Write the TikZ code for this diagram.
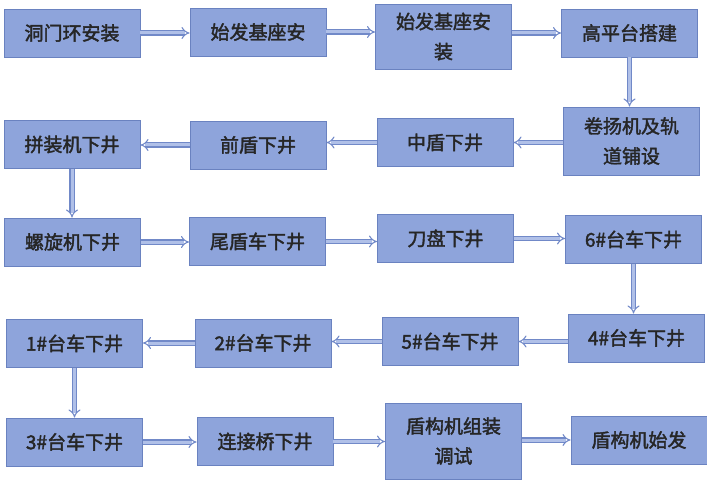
\documentclass[tikz,border=0pt]{standalone}
\usepackage{fontspec}
\setmainfont{Noto Sans CJK SC}[FakeBold=2]
\usepackage{xcolor}
\usepackage{tikz}
\usetikzlibrary{arrows.meta,positioning}
\definecolor{boxfill}{HTML}{8EA4DB}
\definecolor{boxline}{HTML}{6A82C0}
\definecolor{arrline}{HTML}{7189C8}
\definecolor{arrfill}{HTML}{B0C0E8}
\tikzset{%
  block/.style = {draw=boxline, fill=boxfill, line width=0.8pt, rectangle,
    minimum width=136pt, minimum height=48pt, align=center,
    font=\fontsize{19}{30}\selectfont, text=black!85},
  flow/.style  = {draw=arrline, double=arrfill, double distance=3pt,
    line width=1.1pt, -{Implies}} % block arrow
}

\begin{document}
\begin{tikzpicture}[x=1pt, y=-1pt]
        \useasboundingbox (0,0) rectangle (707,484);
        \draw
            node [block] (op1) at (72,33) {洞门环安装}
            node [block] (op2) at (258,32) {始发基座安}
            node [block, minimum height=65pt] (op3) at (443.5,36.5) {始发基座安\\装}
            node [block] (op4) at (629.5,33) {高平台搭建}
            node [block, minimum height=68pt] (op5) at (631.5,141) {卷扬机及轨\\道铺设}
            node [block] (op6) at (445,142.5) {中盾下井}
            node [block] (op7) at (258,145) {前盾下井}
            node [block] (op8) at (72,144.5) {拼装机下井}
            node [block] (op9) at (72.5,242) {螺旋机下井}
            node [block] (op10) at (257.5,241.5) {尾盾车下井}
            node [block] (op11) at (445.5,238.5) {刀盘下井}
            node [block] (op12) at (633.5,239.5) {6\#台车下井}
            node [block] (op13) at (636.5,338) {4\#台车下井}
            node [block] (op14) at (450,341.5) {5\#台车下井}
            node [block] (op15) at (263,343) {2\#台车下井}
            node [block] (op16) at (74.5,343.5) {1\#台车下井}
            node [block] (op17) at (74.5,442) {3\#台车下井}
            node [block] (op18) at (265,441.5) {连接桥下井}
            node [block, minimum height=76pt] (op19) at (453.5,441) {盾构机组装\\调试}
            node [block] (op20) at (639,440) {盾构机始发};

            \draw[flow] (op1.east) -- (op1.east -| op2.west);
            \draw[flow] (op2.east) -- (op2.east -| op3.west);
            \draw[flow] (op3.east |- op4.west) -- (op4.west);
            \draw[flow] (op4.south) -- (op4.south |- op5.north);
            \draw[flow] (op5.west |- op6.east) -- (op6.east);
            \draw[flow] (op6.west) -- (op6.west -| op7.east);
            \draw[flow] (op7.west) -- (op7.west -| op8.east);
            \draw[flow] (op8.south) -- (op8.south |- op9.north);
            \draw[flow] (op9.east) -- (op9.east -| op10.west);
            \draw[flow] (op10.east) -- (op10.east -| op11.west);
            \draw[flow] (op11.east) -- (op11.east -| op12.west);
            \draw[flow] (op12.south) -- (op12.south |- op13.north);
            \draw[flow] (op13.west |- op14.east) -- (op14.east);
            \draw[flow] (op14.west) -- (op14.west -| op15.east);
            \draw[flow] (op15.west) -- (op15.west -| op16.east);
            \draw[flow] (op16.south) -- (op16.south |- op17.north);
            \draw[flow] (op17.east) -- (op17.east -| op18.west);
            \draw[flow] (op18.east) -- (op18.east -| op19.west);
            \draw[flow] (op19.east |- op20.west) -- (op20.west);
\end{tikzpicture}
\end{document}
